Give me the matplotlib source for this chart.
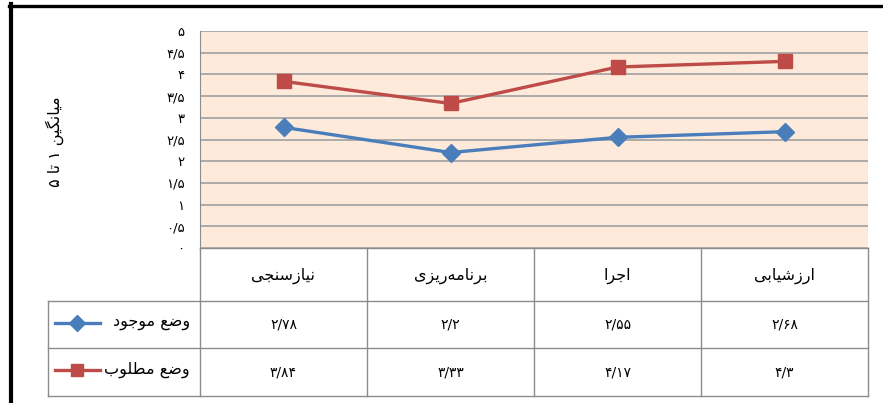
import matplotlib
matplotlib.use('Agg')
import matplotlib.pyplot as plt
from matplotlib.transforms import blended_transform_factory
from matplotlib.lines import Line2D

# Persian labels and values
categories = ['نیازسنجی', 'برنامه\u200cریزی', 'اجرا', 'ارزشیابی']
series_names = ['وضع موجود', 'وضع مطلوب']
current = [2.78, 2.2, 2.55, 2.68]
desired = [3.84, 3.33, 4.17, 4.3]
y_ticks = [0, 0.5, 1, 1.5, 2, 2.5, 3, 3.5, 4, 4.5, 5]
y_label = 'میانگین ۱ تا ۵'

BLUE = '#4a7ebb'
RED = '#be4b48'
GRID = '#a6a6a6'
TABLE = '#8c8c8c'
FILL = '#fdeada'

# minimal arabic shaping: (isolated, final, initial, medial)
FORMS = {
    'ا': ('\uFE8D', '\uFE8E', None, None),
    'ب': ('\uFE8F', '\uFE90', '\uFE91', '\uFE92'),
    'ت': ('\uFE95', '\uFE96', '\uFE97', '\uFE98'),
    'ج': ('\uFE9D', '\uFE9E', '\uFE9F', '\uFEA0'),
    'د': ('\uFEA9', '\uFEAA', None, None),
    'ر': ('\uFEAD', '\uFEAE', None, None),
    'ز': ('\uFEAF', '\uFEB0', None, None),
    'س': ('\uFEB1', '\uFEB2', '\uFEB3', '\uFEB4'),
    'ش': ('\uFEB5', '\uFEB6', '\uFEB7', '\uFEB8'),
    'ض': ('\uFEBD', '\uFEBE', '\uFEBF', '\uFEC0'),
    'ط': ('\uFEC1', '\uFEC2', '\uFEC3', '\uFEC4'),
    'ع': ('\uFEC9', '\uFECA', '\uFECB', '\uFECC'),
    'ل': ('\uFEDD', '\uFEDE', '\uFEDF', '\uFEE0'),
    'م': ('\uFEE1', '\uFEE2', '\uFEE3', '\uFEE4'),
    'ن': ('\uFEE5', '\uFEE6', '\uFEE7', '\uFEE8'),
    'ه': ('\uFEE9', '\uFEEA', '\uFEEB', '\uFEEC'),
    'و': ('\uFEED', '\uFEEE', None, None),
    'ی': ('\uFBFC', '\uFBFD', '\uFBFE', '\uFBFF'),
    'گ': ('\uFB92', '\uFB93', '\uFB94', '\uFB95'),
}


def shape(text):
    out = []
    for i, c in enumerate(text):
        if c not in FORMS:
            out.append(c)
            continue
        iso, fin, ini, med = FORMS[c]
        prev = text[i - 1] if i > 0 else ''
        nxt = text[i + 1] if i + 1 < len(text) else ''
        join_prev = prev in FORMS and FORMS[prev][2] is not None
        join_next = ini is not None and nxt in FORMS
        if join_prev and join_next:
            out.append(med)
        elif join_prev:
            out.append(fin)
        elif join_next:
            out.append(ini)
        else:
            out.append(iso)
    return ''.join(out).replace('\u200c', '')[::-1]


def fa_num(v):
    s = '{:g}'.format(v).replace('.', '/')
    return ''.join('۰۱۲۳۴۵۶۷۸۹'[int(ch)] if ch.isdigit() else ch for ch in s)


plt.rcParams['font.family'] = ['DejaVu Sans']

W, H = 883, 403
fig = plt.figure(figsize=(W / 100, H / 100), dpi=100)

ax = fig.add_axes([200 / W, 1 - 248 / H, 668 / W, 217 / H])
ax.set_facecolor(FILL)
x = list(range(len(categories)))
ax.plot(x, current, color=BLUE, lw=2.4, marker='D', ms=9, mec=BLUE, zorder=3)
ax.plot(x, desired, color=RED, lw=2.4, marker='s', ms=10, mec=RED, zorder=3)
ax.set_xlim(-0.5, len(categories) - 0.5)
ax.set_ylim(0, 5)
ax.set_yticks(y_ticks)
ax.set_yticklabels([fa_num(t) for t in y_ticks], fontsize=9.5)
ax.tick_params(axis='y', length=0, pad=11)
ax.set_xticks([])
ax.grid(axis='y', color=GRID, lw=1.3)
ax.set_axisbelow(True)
for s in ['top', 'right', 'bottom']:
    ax.spines[s].set_visible(False)
ax.spines['left'].set_color(TABLE)

fig.text(55 / W, 1 - 142 / H, shape(y_label), rotation=90, ha='center', va='center', fontsize=11.5)

# overlay in pixel units for the data table
ov = fig.add_axes([0, 0, 1, 1], zorder=-1)
ov.set_xlim(0, W)
ov.set_ylim(H, 0)
ov.axis('off')
ov.patch.set_alpha(0)
tr = blended_transform_factory(ax.transData, ov.transData)

row_y = [248, 301, 348, 396]
for i in range(len(categories) + 1):
    ov.plot([i - 0.5, i - 0.5], [248, 396], color=TABLE, lw=1, transform=tr)
ov.plot([-0.5, len(categories) - 0.5], [248, 248], color=TABLE, lw=1, transform=tr)
for yy in row_y[1:]:
    ov.plot([48, 868], [yy, yy], color=TABLE, lw=1)
ov.plot([48, 48], [301, 396], color=TABLE, lw=1)

for i, cat in enumerate(categories):
    ov.text(i, 276, shape(cat), ha='center', va='center', fontsize=11.5, transform=tr)
    ov.text(i, 325, fa_num(current[i]), ha='center', va='center', fontsize=10, transform=tr)
    ov.text(i, 372, fa_num(desired[i]), ha='center', va='center', fontsize=10, transform=tr)

for name, color, mk, ms, yy in [(series_names[0], BLUE, 'D', 8, 323), (series_names[1], RED, 's', 9, 370)]:
    ov.add_line(Line2D([55, 100], [yy, yy], color=color, lw=2.4, marker=None))
    ov.plot([77], [yy], marker=mk, ms=ms, color=color)
    ov.text(190, yy, shape(name), ha='right', va='center', fontsize=11.5)

# black frame on top and left
ov.plot([9, W], [5.5, 5.5], color='black', lw=2.4, clip_on=False)
ov.plot([11, 11], [4, H], color='black', lw=3, clip_on=False)

fig.savefig('out.png', dpi=100, facecolor='white')
